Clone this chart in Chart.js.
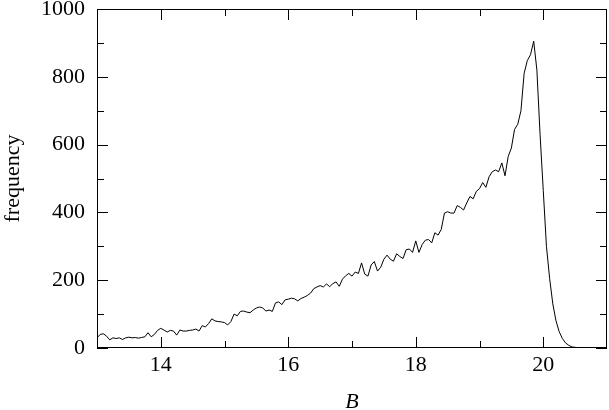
<!DOCTYPE html>
<html>
<head>
<meta charset="utf-8">
<script src="https://cdn.jsdelivr.net/npm/chart.js@4/dist/chart.umd.min.js"></script>
<style>
html,body{margin:0;padding:0;background:#fff;}
#wrap{width:609px;height:410px;position:relative;}
</style>
</head>
<body>
<div id="wrap"><canvas id="c" width="609" height="410"></canvas></div>
<script>
// B grid: start and bin width of the histogram
const bStart = 13.0;
const bStep = 0.05;
// frequency per bin
const frequency = [
  30, 40, 42, 35, 24, 30, 28, 30, 25, 30,
  32, 30, 31, 29, 31, 33, 45, 33, 40, 52,
  58, 53, 47, 52, 50, 38, 53, 50, 50, 52,
  53, 56, 50, 66, 62, 72, 86, 80, 78, 77,
  75, 68, 78, 100, 95, 108, 109, 106, 104, 112,
  118, 121, 118, 109, 112, 108, 133, 136, 128, 142,
  144, 147, 145, 139, 146, 150, 155, 162, 175, 180,
  184, 180, 189, 181, 190, 195, 182, 203, 213, 220,
  212, 224, 220, 251, 218, 212, 245, 255, 227, 238,
  262, 274, 262, 256, 278, 270, 264, 290, 292, 282,
  316, 282, 305, 318, 320, 310, 340, 333, 350, 398,
  402, 398, 398, 420, 415, 407, 428, 447, 440, 462,
  470, 488, 474, 505, 520, 525, 520, 546, 508, 565,
  590, 645, 660, 700, 810, 848, 865, 905, 820, 630,
  465, 300, 205, 130, 80, 48, 28, 15, 8, 3,
  2, 1, 0, 0, 0, 0, 0, 0, 0, 0, 0
];
const xTickValues = [14, 16, 18, 20];
const xMinorValues = [15, 17, 19];
const yTickValues = [0, 200, 400, 600, 800, 1000];
const yMinorValues = [100, 300, 500, 700, 900];

const points = frequency.map((f, i) => ({ x: bStart + bStep * i, y: f }));

const frameTicks = {
  id: 'frameTicks',
  afterDraw(chart) {
    const ctx = chart.ctx;
    const a = chart.chartArea;
    const xs = chart.scales.x, ys = chart.scales.y;
    ctx.save();
    ctx.strokeStyle = '#000';
    ctx.lineWidth = 1;
    ctx.strokeRect(Math.round(a.left) + 0.5, Math.round(a.top) + 0.5,
                   Math.round(a.right - a.left) - 1, Math.round(a.bottom - a.top) - 1);
    ctx.beginPath();
    const major = 11, minor = 7;
    const vx = (vals, len) => vals.forEach(v => {
      const px = Math.round(xs.getPixelForValue(v)) + 0.5;
      ctx.moveTo(px, a.bottom); ctx.lineTo(px, a.bottom - len);
      ctx.moveTo(px, a.top); ctx.lineTo(px, a.top + len);
    });
    const vy = (vals, len) => vals.forEach(v => {
      const py = Math.round(ys.getPixelForValue(v)) + 0.5;
      ctx.moveTo(a.left, py); ctx.lineTo(a.left + len, py);
      ctx.moveTo(a.right, py); ctx.lineTo(a.right - len, py);
    });
    vx(xTickValues, major); vx(xMinorValues, minor);
    vy(yTickValues, major); vy(yMinorValues, minor);
    ctx.stroke();
    ctx.restore();
  }
};

const serif = '"Liberation Serif", "Times New Roman", Times, serif';
new Chart(document.getElementById('c'), {
  type: 'line',
  data: {
    datasets: [{
      data: points,
      borderColor: '#000',
      borderWidth: 1,
      pointRadius: 0,
      tension: 0,
      fill: false
    }]
  },
  options: {
    responsive: false,
    animation: false,
    layout: { padding: { top: 9, right: 2, left: 0, bottom: 0 } },
    plugins: { legend: { display: false }, tooltip: { enabled: false } },
    scales: {
      x: {
        type: 'linear',
        min: 13, max: 21,
        afterBuildTicks: s => { s.ticks = xTickValues.map(v => ({ value: v })); },
        afterFit: s => { s.height = 62; s.paddingLeft = 0; s.paddingRight = 0; },
        grid: { display: false, drawTicks: false },
        border: { display: false },
        ticks: { color: '#000', font: { family: serif, size: 22 }, padding: 4, maxRotation: 0,
                 callback: v => String(v) },
        title: { display: true, text: 'B', color: '#000', font: { family: serif, size: 22, style: 'italic' }, padding: { top: 0, bottom: -5 } }
      },
      y: {
        min: 0, max: 1000,
        afterBuildTicks: s => { s.ticks = yTickValues.map(v => ({ value: v })); },
        afterFit: s => { s.width = 97; s.paddingTop = 0; s.paddingBottom = 0; },
        grid: { display: false, drawTicks: false },
        border: { display: false },
        ticks: { color: '#000', font: { family: serif, size: 22 }, padding: 12,
                 callback: v => String(v) },
        title: { display: true, text: 'frequency', color: '#000', font: { family: serif, size: 22 }, padding: { top: 0, bottom: 0 } }
      }
    }
  },
  plugins: [frameTicks]
});
</script>
</body>
</html>
